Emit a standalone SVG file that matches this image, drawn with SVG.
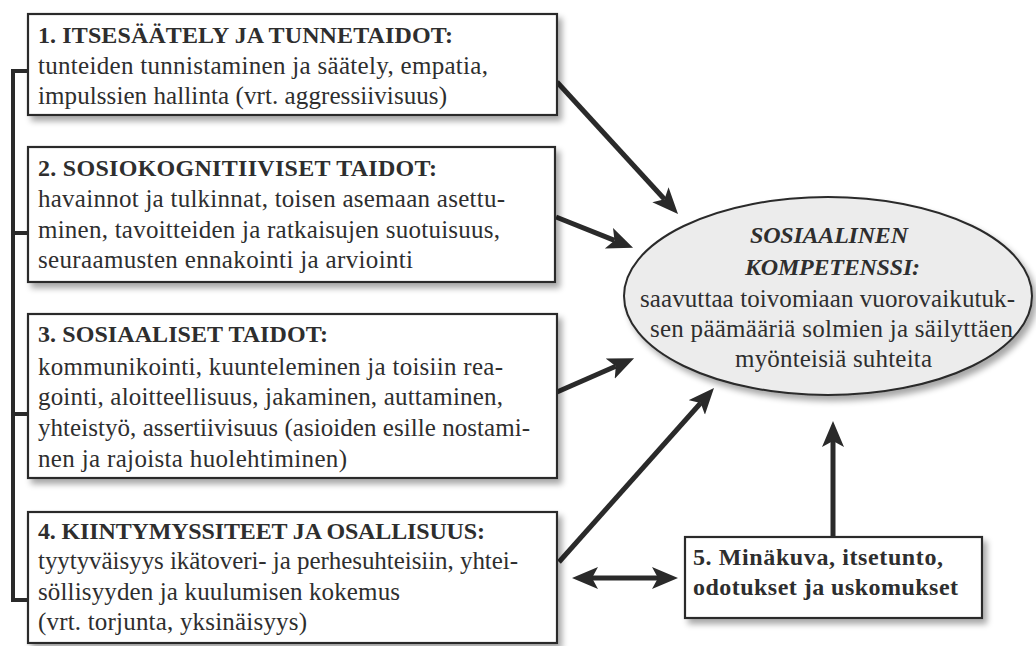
<svg xmlns="http://www.w3.org/2000/svg" width="1036" height="646" viewBox="0 0 1036 646">
<style>
.box{fill:#fff;stroke:#2a2a2a;stroke-width:2.2}
.t{font-family:"Liberation Serif",serif;font-size:25px;fill:#2e2e2e}
.b{font-weight:bold;font-size:24px}
.it{font-style:italic}
.con{stroke:#2a2a2a;stroke-width:5;fill:none}
.br{stroke:#2a2a2a;stroke-width:4;fill:none}
</style>
<defs>
<filter id="sh" x="-5%" y="-10%" width="115%" height="130%">
<feGaussianBlur in="SourceAlpha" stdDeviation="3"/>
<feOffset dx="4" dy="5" result="o"/>
<feComponentTransfer><feFuncA type="linear" slope="0.35"/></feComponentTransfer>
<feMerge><feMergeNode/><feMergeNode in="SourceGraphic"/></feMerge>
</filter>
<marker id="ah" markerUnits="userSpaceOnUse" markerWidth="28" markerHeight="24" refX="6" refY="11" orient="auto-start-reverse">
<path d="M0,0 L26,11 L0,22 L6,11 z" fill="#2a2a2a"/>
</marker>
</defs>
<rect width="1036" height="646" fill="#fff"/>
<g id="connectors">
<path class="br" d="M28,71 H13 V600 H28 M13,233 H28 M13,414 H28"/>
<line class="con" x1="557" y1="82" x2="664.5" y2="199.2" marker-end="url(#ah)"/>
<line class="con" x1="556" y1="217" x2="614.5" y2="240.4" marker-end="url(#ah)"/>
<line class="con" x1="557" y1="392" x2="615.8" y2="366.2" marker-end="url(#ah)"/>
<line class="con" x1="559" y1="562" x2="700.7" y2="403" marker-end="url(#ah)"/>
<line class="con" x1="833" y1="537" x2="833" y2="441" marker-end="url(#ah)"/>
<line class="con" x1="592" y1="578" x2="658" y2="578" marker-start="url(#ah)" marker-end="url(#ah)"/>
</g>
<g id="n1">
<rect class="box" x="28" y="14" width="529" height="101" filter="url(#sh)"/>
<text class="t b" x="38" y="43" textLength="415">1. ITSESÄÄTELY JA TUNNETAIDOT:</text>
<text class="t" x="38" y="74" textLength="450">tunteiden tunnistaminen ja säätely, empatia,</text>
<text class="t" x="38" y="104" textLength="409">impulssien hallinta (vrt. aggressiivisuus)</text>
</g>
<g id="n2">
<rect class="box" x="28" y="147" width="527" height="135" filter="url(#sh)"/>
<text class="t b" x="38" y="176" textLength="399">2. SOSIOKOGNITIIVISET TAIDOT:</text>
<text class="t" x="38" y="207" textLength="467">havainnot ja tulkinnat, toisen asemaan asettu-</text>
<text class="t" x="38" y="238" textLength="462">minen, tavoitteiden ja ratkaisujen suotuisuus,</text>
<text class="t" x="38" y="268" textLength="375">seuraamusten ennakointi ja arviointi</text>
</g>
<g id="n3">
<rect class="box" x="28" y="314" width="529" height="164" filter="url(#sh)"/>
<text class="t b" x="38" y="342" textLength="290">3. SOSIAALISET TAIDOT:</text>
<text class="t" x="38" y="375" textLength="465">kommunikointi, kuunteleminen ja toisiin rea-</text>
<text class="t" x="38" y="405" textLength="465">gointi, aloitteellisuus, jakaminen, auttaminen,</text>
<text class="t" x="38" y="436" textLength="492">yhteistyö, assertiivisuus (asioiden esille nostami-</text>
<text class="t" x="38" y="467" textLength="309">nen ja rajoista huolehtiminen)</text>
</g>
<g id="n4">
<rect class="box" x="28" y="512" width="529" height="131" filter="url(#sh)"/>
<text class="t b" x="38" y="539" textLength="447">4. KIINTYMYSSITEET JA OSALLISUUS:</text>
<text class="t" x="38" y="569" textLength="480">tyytyväisyys ikätoveri- ja perhesuhteisiin, yhtei-</text>
<text class="t" x="38" y="600" textLength="362">söllisyyden ja kuulumisen kokemus</text>
<text class="t" x="38" y="630" textLength="269">(vrt. torjunta, yksinäisyys)</text>
</g>
<g id="n5">
<rect class="box" x="685" y="537" width="297" height="81" filter="url(#sh)"/>
<text class="t b" x="693" y="565" textLength="250">5. Minäkuva, itsetunto,</text>
<text class="t b" x="693" y="595" textLength="265">odotukset ja uskomukset</text>
</g>
<g id="center">
<ellipse cx="828" cy="296" rx="204" ry="99" fill="#ececec" stroke="#2a2a2a" stroke-width="2" filter="url(#sh)"/>
<text class="t it b" x="750" y="243" textLength="158">SOSIAALINEN</text>
<text class="t it b" x="745" y="275" textLength="175">KOMPETENSSI:</text>
<text class="t" x="640" y="307" textLength="375">saavuttaa toivomiaan vuorovaikutuk-</text>
<text class="t" x="650" y="337" textLength="363">sen päämääriä solmien ja säilyttäen</text>
<text class="t" x="735" y="367" textLength="197">myönteisiä suhteita</text>
</g>
</svg>
